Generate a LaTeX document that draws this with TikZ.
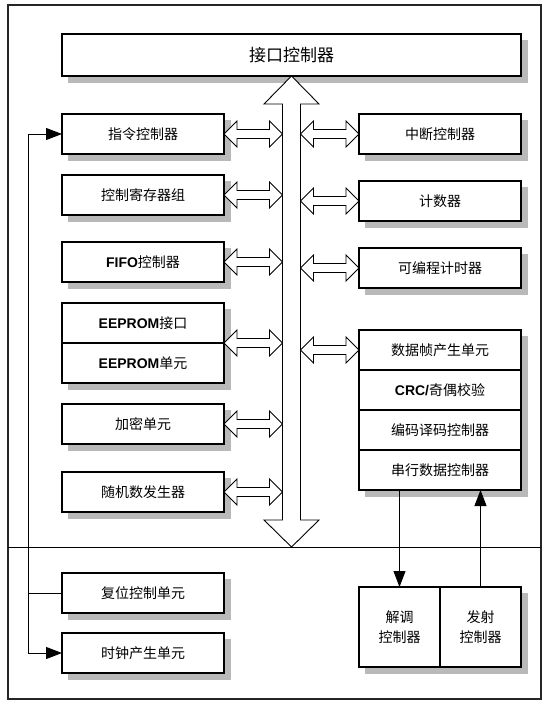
\documentclass[tikz,border=0pt]{standalone}
\usepackage{fontspec}
\setmainfont{Noto Sans CJK SC}
\newfontfamily\latinbf{Liberation Sans}
\usetikzlibrary{arrows.meta,positioning,calc,backgrounds}

\newcommand{\en}[1]{{\latinbf\bfseries #1}}
% white double arrow between a box and the bus
\newcommand{\dblarrow}[2]{%
  \draw[busline] let \p1=(#1), \p2=(#2) in
    (\x1,\y1) -- (\x1+13pt,\y1+13pt) -- (\x1+13pt,\y1+4.5pt)
    -- (\x2-13pt,\y1+4.5pt) -- (\x2-13pt,\y1+13pt) -- (\x2,\y1)
    -- (\x2-13pt,\y1-13pt) -- (\x2-13pt,\y1-4.5pt)
    -- (\x1+13pt,\y1-4.5pt) -- (\x1+13pt,\y1-13pt) -- cycle;}
\definecolor{shadowgray}{RGB}{185,185,185}

\begin{document}
\begin{tikzpicture}[
  x=1pt, y=-1pt,
  box/.style={rectangle, draw=black, line width=1.1pt, fill=white,
              minimum width=162pt, minimum height=40pt, inner sep=0pt,
              outer sep=0pt, font=\fontsize{14}{16}\selectfont},
  topbox/.style={box, minimum width=459pt, minimum height=42pt,
                 font=\fontsize{17}{19}\selectfont},
  halfbox/.style={box, minimum width=81pt, minimum height=80pt,
                  align=center, font=\fontsize{14}{20}\selectfont},
  shadowfill/.style={fill=shadowgray, draw=shadowgray, line width=0.5pt},
  busline/.style={draw=black, line width=0.9pt, fill=white},
  sigline/.style={line width=0.9pt, -{Triangle[length=16pt,width=12pt]}},
  >=Stealth
]
\useasboundingbox (0,0) rectangle (549,704);

% Frame and divider
\draw[line width=1.2pt, black!85] (8,5) rectangle (541,699);
\draw[line width=0.9pt] (8,547) -- (541,547);

% Interface controller
\node[topbox] (iface) at (291.5,55) {接口控制器};

% Left column
\node[box] (instr) at (143,134) {指令控制器};
\node[box, below=21pt of instr] (regs) {控制寄存器组};
\node[box, below=27pt of regs] (fifo) {\en{FIFO}控制器};
\node[box, below=21pt of fifo] (eeif) {\en{EEPROM}接口};
\node[box, below=0pt of eeif] (eeunit) {\en{EEPROM}单元};
\node[box, below=21pt of eeunit] (crypt) {加密单元};
\node[box, below=28pt of crypt] (rng) {随机数发生器};
\node[box, below=61pt of rng] (reset) {复位控制单元};
\node[box, below=20pt of reset] (clock) {时钟产生单元};

% Right column
\node[box] (intr) at (440,134) {中断控制器};
\node[box, below=27pt of intr] (cnt) {计数器};
\node[box, below=27pt of cnt] (timer) {可编程计时器};
\node[box, below=42pt of timer] (frmgen) {数据帧产生单元};
\node[box, below=0pt of frmgen] (crc) {\en{CRC/}奇偶校验};
\node[box, below=0pt of crc] (codec) {编码译码控制器};
\node[box, below=0pt of codec] (serial) {串行数据控制器};
\node[halfbox] (demod) at (399.5,627) {解调\\控制器};
\node[halfbox, right=0pt of demod] (tx) {发射\\控制器};

% Shadows
\begin{scope}[on background layer]
  \foreach \n in {iface,instr,regs,fifo,crypt,rng,reset,clock,intr,cnt,timer}
    \filldraw[shadowfill] ($(\n.north west)+(6,6)$) rectangle ($(\n.south east)+(6,6)$);
  \filldraw[shadowfill] ($(eeif.north west)+(6,6)$) rectangle ($(eeunit.south east)+(6,6)$);
  \filldraw[shadowfill] ($(frmgen.north west)+(6,6)$) rectangle ($(serial.south east)+(6,6)$);
  \filldraw[shadowfill] ($(demod.north west)+(6,6)$) rectangle ($(tx.south east)+(6,6)$);
\end{scope}

% Bus
\coordinate (busL) at ($(iface.south)+(-9,0)$);
\coordinate (busR) at ($(iface.south)+(9,0)$);
\draw[busline] (iface.south) -- ++(27.5,28) -- ++(-18.5,0) -- ++(0,416)
  -- ++(18.5,0) -- ++(-27.5,27) -- ++(-27.5,-27) -- ++(18.5,0)
  -- ++(0,-416) -- ++(-18.5,0) -- cycle;

% Left double arrows
\dblarrow{instr.east}{instr.east -| busL}
\dblarrow{regs.east}{regs.east -| busL}
\dblarrow{fifo.east}{fifo.east -| busL}
\dblarrow{eeif.south east}{eeif.south east -| busL}
\dblarrow{crypt.east}{crypt.east -| busL}
\dblarrow{rng.east}{rng.east -| busL}

% Right double arrows
\dblarrow{intr.west -| busR}{intr.west}
\dblarrow{cnt.west -| busR}{cnt.west}
\dblarrow{timer.west -| busR}{timer.west}
\dblarrow{frmgen.west -| busR}{frmgen.west}

% Reset signal
\coordinate (lbus) at (28,0);
\draw[line width=0.9pt] (reset.west) -- (lbus |- reset.west);
\draw[sigline] (lbus |- reset.west) |- (instr.west);
\draw[sigline] (lbus |- reset.west) |- (clock.west);

% Serial data lines
\draw[sigline] (demod.north |- serial.south) -- (demod.north);
\draw[sigline] (tx.north) -- (tx.north |- serial.south);

\end{tikzpicture}
\end{document}
